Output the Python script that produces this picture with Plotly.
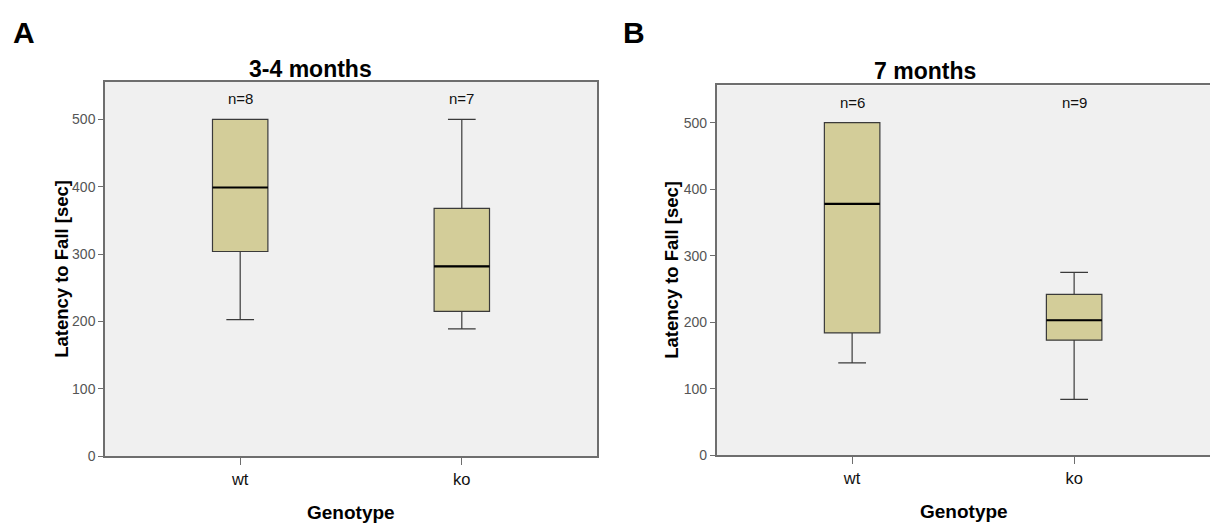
import plotly.graph_objects as go

W, H = 1210, 529

# ---- data ----
genotypes = ["wt", "ko"]
n_labels_a = ["n=8", "n=7"]
n_labels_b = ["n=6", "n=9"]

# 3-4 months
a_min = [203, 189]
a_q1 = [304, 215]
a_median = [399, 282]
a_q3 = [500, 368]
a_max = [500, 500]

# 7 months
b_min = [139, 84]
b_q1 = [184, 173]
b_median = [378, 203]
b_q3 = [500, 242]
b_max = [500, 275]

y_ticks = [0, 100, 200, 300, 400, 500]

FONT = "Liberation Sans, Arial, sans-serif"
FILL = "#D3CD99"
EDGE = "#3a3a3a"
BG = "#F0F0F0"
AX = "#6e6e6e"
BOXW = 0.25
pos = list(range(len(genotypes)))

fig = go.Figure()


def add_panel(xa, ya, mins, q1, med, q3, maxs, nlab):
    fig.add_trace(go.Box(
        x=pos, q1=q1, median=med, q3=q3, lowerfence=mins, upperfence=maxs,
        width=BOXW, whiskerwidth=0.5, fillcolor=FILL,
        line=dict(color=EDGE, width=1.2), boxpoints=False,
        xaxis=xa, yaxis=ya, showlegend=False, hoverinfo="skip"))
    for p, m in zip(pos, med):
        fig.add_trace(go.Scatter(
            x=[p - BOXW / 2, p + BOXW / 2], y=[m, m], mode="lines",
            line=dict(color="black", width=2.2), xaxis=xa, yaxis=ya,
            showlegend=False, hoverinfo="skip"))
    for p, t in zip(pos, nlab):
        fig.add_annotation(x=p, y=531, xref=xa, yref=ya, text=t,
                           showarrow=False, font=dict(family=FONT, size=15, color="#111"))


add_panel("x", "y", a_min, a_q1, a_median, a_q3, a_max, n_labels_a)
add_panel("x2", "y2", b_min, b_q1, b_median, b_q3, b_max, n_labels_b)


def px_x(v):
    return v / W


def px_y(v):
    return 1 - v / H


xcommon = dict(range=[-0.61, 1.61], tickvals=pos, ticktext=genotypes,
               showline=True, linecolor=AX, linewidth=1.5, ticks="outside",
               ticklen=7, tickcolor=AX, showgrid=False, zeroline=False,
               tickfont=dict(family=FONT, size=16.5, color="#111"), fixedrange=True)
ycommon = dict(range=[0, 556], tickvals=y_ticks, showline=True, linecolor=AX,
               linewidth=1.5, ticks="outside", ticklen=5, tickcolor=AX,
               showgrid=False, zeroline=False,
               tickfont=dict(family=FONT, size=14, color="#555"), fixedrange=True)

fig.update_layout(
    width=W, height=H, autosize=False,
    margin=dict(l=0, r=0, t=0, b=0),
    paper_bgcolor="white", plot_bgcolor=BG,
    xaxis=dict(domain=[px_x(105), px_x(597)], anchor="y", mirror=True, **xcommon),
    yaxis=dict(domain=[px_y(463.3), px_y(83)], anchor="x", mirror=True, **ycommon),
    xaxis2=dict(domain=[px_x(716.7), 1.0], anchor="y2", mirror=True,
                **{**xcommon, "range": [-0.61, 1.612]}),
    yaxis2=dict(domain=[px_y(462.3), px_y(86.7)], anchor="x2", mirror=False, **ycommon),
)

ann = [
    dict(x=px_x(24), y=px_y(33), text="<b>A</b>", size=30),
    dict(x=px_x(634), y=px_y(33), text="<b>B</b>", size=30),
    dict(x=px_x(310), y=px_y(70), text="<b>3-4 months</b>", size=23),
    dict(x=px_x(925), y=px_y(72), text="<b>7 months</b>", size=23),
    dict(x=px_x(351), y=px_y(520), text="<b>Genotype</b>", size=19),
    dict(x=px_x(964), y=px_y(519), text="<b>Genotype</b>", size=19),
]
for a in ann:
    fig.add_annotation(x=a["x"], y=a["y"], xref="paper", yref="paper", text=a["text"],
                       showarrow=False, xanchor="center", yanchor="middle",
                       font=dict(family=FONT, size=a["size"], color="black"))

for xp, yp in [(62, 273), (672, 274)]:
    fig.add_annotation(x=px_x(xp), y=px_y(yp), xref="paper", yref="paper",
                       text="<b>Latency to Fall [sec]</b>", textangle=-90,
                       showarrow=False, xanchor="center", yanchor="middle",
                       font=dict(family=FONT, size=18.5, color="black"))

post = (
    "var s=document.createElement('style');"
    "s.textContent='html,body{margin:0;padding:0;overflow:hidden;}';"
    "document.head.appendChild(s);"
)
fig.write_html("out.html", config={"displayModeBar": False}, post_script=post)
